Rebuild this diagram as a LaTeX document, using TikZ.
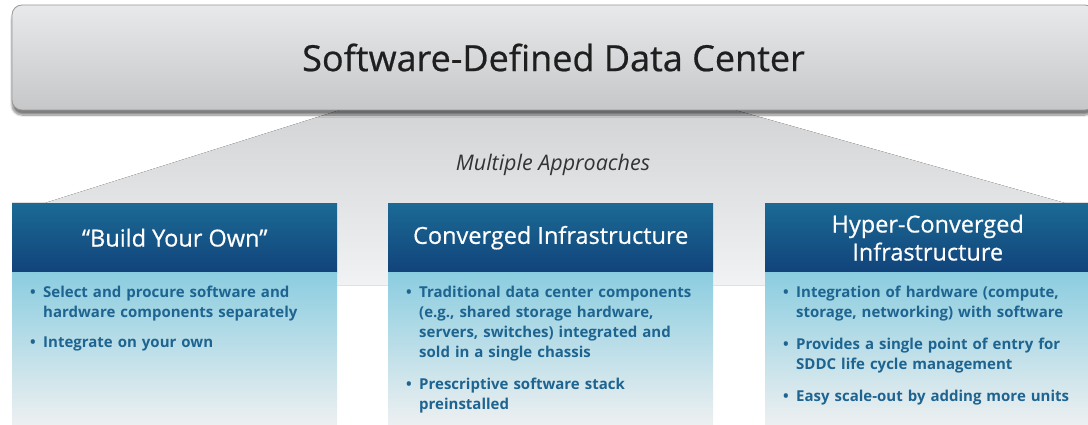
\documentclass[tikz,border=0pt]{standalone}
\usepackage{fontspec}
\setmainfont{Open Sans}
\newfontfamily\medfont[FakeBold=0.6]{Open Sans}
\usepackage{tikz}
\usetikzlibrary{positioning,shadows.blur}

\definecolor{hdrtop}{HTML}{1B6A95}
\definecolor{hdrbot}{HTML}{11437A}
\definecolor{bodytop}{HTML}{8BCDE0}
\definecolor{bodybot}{HTML}{EEF0F1}
\definecolor{bultext}{HTML}{1E6490}
\definecolor{bantop}{HTML}{E8E9EB}
\definecolor{banbot}{HTML}{C6C7C9}
\definecolor{fantop}{HTML}{D3D4D6}
\definecolor{fanbot}{HTML}{F1F2F3}

\tikzset{banner/.style={rectangle,rounded corners=10pt,draw=black!40,line width=0.8pt,top color=bantop,bottom color=banbot,
    blur shadow={shadow xshift=0pt,shadow yshift=-5pt,shadow blur steps=10,shadow opacity=50},
    minimum width=1083pt,minimum height=105pt,inner sep=0pt,font=\medfont\fontsize{36}{40}\selectfont,text=black!88}}
\tikzset{hdr/.style={rectangle,top color=hdrtop,bottom color=hdrbot,anchor=north west,minimum width=325pt,minimum height=69pt,
    inner sep=0pt,text=white,align=center,font=\medfont\fontsize{23.5}{28}\selectfont}}
\tikzset{bodybox/.style={rectangle,top color=bodytop,bottom color=bodybot,anchor=north west,minimum width=325pt,minimum height=153pt,inner sep=0pt}}
\tikzset{bultxt/.style={anchor=north west,inner sep=0pt,text width=300pt,align=left,text=bultext,font=\bfseries\fontsize{15}{20}\selectfont}}

\newcommand{\bul}[1]{\par\noindent\hangindent=13pt\hangafter=1\makebox[13pt][l]{\textbullet}#1\par}

\begin{document}
\begin{tikzpicture}[x=1pt,y=-1pt]
    \useasboundingbox (0,0) rectangle (1088,425);

    % fan behind the three approaches
    \fill[top color=fantop,bottom color=fanbot] (340,110) -- (735,110) -- (1065,203) -- (1088,203) -- (1088,285)
        -- (12,285) -- (12,203) -- (45,203) -- cycle;

    \node[banner] (sddc) at (553.5,57.5) {Software-Defined Data Center};
    \node[text=black!80,font=\itshape\fontsize{21.5}{24}\selectfont] (multi) at (553,165) {Multiple Approaches};

    \node[hdr] (h1) at (12,203) {“Build Your Own”};
    \node[hdr] (h2) at (388,203) {Converged Infrastructure};
    \node[hdr] (h3) at (765,203) {Hyper-Converged\\Infrastructure};

    \node[bodybox] (b1) at (h1.south west) {};
    \node[bodybox] (b2) at (h2.south west) {};
    \node[bodybox] (b3) at (h3.south west) {};

    \node[bultxt] (t1) at (30,277) {\bul{Select and procure software and\newline hardware components separately}\vspace{10pt}
        \bul{Integrate on your own}};
    \node[bultxt] (t2) at (406,277) {\bul{Traditional data center components\newline (e.g., shared storage hardware,\newline servers, switches) integrated and\newline sold in a single chassis}\vspace{12pt}
        \bul{Prescriptive software stack\newline preinstalled}};
    \node[bultxt] (t3) at (783,277) {\bul{Integration of hardware (compute,\newline storage, networking) with software}\vspace{12pt}
        \bul{Provides a single point of entry for\newline SDDC life cycle management}\vspace{12pt}
        \bul{Easy scale-out by adding more units}};
\end{tikzpicture}
\end{document}
